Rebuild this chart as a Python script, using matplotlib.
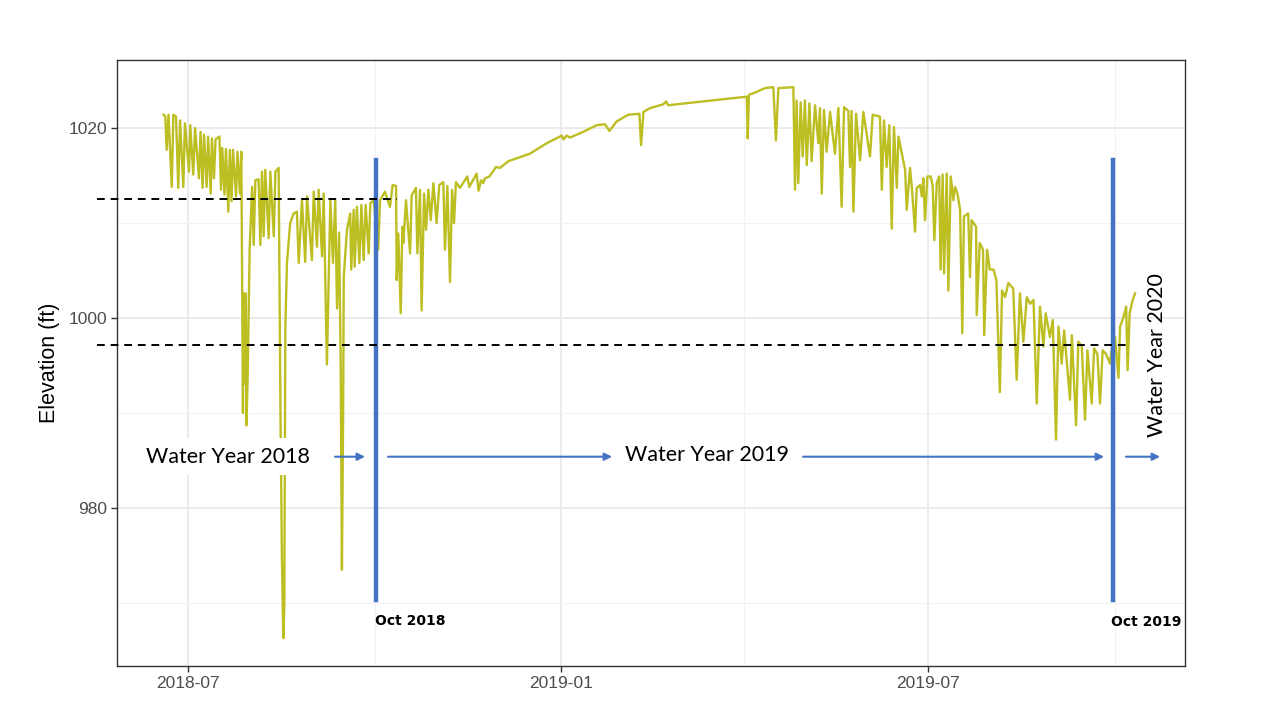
import numpy as np
import matplotlib
matplotlib.use("Agg")
import matplotlib.pyplot as plt
import matplotlib.dates as mdates

# reservoir elevation: days after 2018-07-01, elevation in ft
day_offset = [
    -12.0, -11.2, -10.5, -9.6, -8.0, -7.2, -5.9, -4.8, -3.9, -2.3, -1.5,
    0.5, 1.1, 2.6, 3.5, 5.4, 6.2, 7.2, 7.9, 9.2, 9.9, 11.2, 11.8, 12.8, 13.6,
    14.8, 15.5, 16.3, 16.9, 18.0, 18.7, 19.9, 20.6, 21.5, 22.2, 23.7, 24.4,
    25.6, 26.3,
    27.1, 27.5, 28.0, 28.5, 28.8, 29.4, 30.4, 31.6, 32.4, 33.2, 34.8, 35.7,
    36.5, 37.3, 38.1, 39.8, 40.6, 42.3, 43.1, 44.7,
    45.6, 46.3, 47.0, 47.5, 48.0, 48.8, 50.4, 52.1, 53.7, 54.6, 56.2, 57.8,
    58.7, 61.1, 62.0, 63.6, 64.4, 66.1, 66.9, 68.5, 70.2, 71.5, 72.6,
    73.5, 74.5, 75.3, 75.9, 76.5, 76.8, 78.4, 80.0, 80.5, 81.7, 82.2, 83.3,
    84.5, 85.5, 86.6, 87.6, 89.1, 89.9, 91.6,
    93.8, 94.7, 97.1, 99.6, 100.9, 102.6, 102.9, 103.7, 104.9, 105.7, 106.2,
    107.5, 109.5, 110.3, 112.4, 113.1, 114.4, 115.2, 116.4, 117.4, 118.5,
    119.7, 121.0, 122.6, 123.9, 125.9, 126.7, 127.9, 129.2, 130.2, 131.2,
    132.1, 134.1, 137.7, 138.7, 142.3, 143.3, 144.5, 145.6, 146.4, 148.6,
    151.9, 153.8, 157.9, 168.6, 176.9, 184.3, 185.1, 186.7, 188.4, 194.9,
    201.5, 205.6, 207.8, 211.4, 217.1, 222.6, 223.4, 224.6, 227.9, 234.4,
    235.7, 236.8,
    275.5, 276.0, 276.6, 280.4, 284.5, 288.6, 289.9, 291.1, 298.5,
    299.3, 300.1, 300.9, 302.1, 303.1, 304.2, 305.1, 306.4, 307.5, 309.2,
    310.8, 311.6, 312.5, 313.6, 314.9, 316.6, 319.0, 320.7, 322.3, 323.5,
    325.6, 326.4, 327.2, 328.1, 329.4, 331.4, 333.0, 336.3, 337.6, 341.2,
    342.1, 343.2, 344.5, 345.8, 347.0, 348.1, 349.5, 350.3,
    353.6, 354.4, 356.0, 356.9, 358.5, 359.3, 361.0, 361.8, 362.6, 363.4,
    364.6, 366.2, 367.2, 368.0, 369.2, 370.4, 371.1, 372.1, 372.8, 374.1,
    374.9, 376.1, 377.4, 378.2, 379.4, 380.7, 381.8, 382.6, 384.7, 385.6,
    386.4, 388.6, 388.9, 390.4, 392.0, 392.6, 394.0, 395.3, 397.2, 398.6,
    400.3, 401.4, 402.9, 404.5, 406.9, 408.6, 410.2, 411.9, 413.6, 415.2,
    416.9, 418.5, 420.1,
    421.8, 422.9, 425.0, 426.4, 428.0, 429.2,
    430.8, 432.0, 434.9, 435.8, 437.9, 439.0, 440.7, 442.3, 443.5, 445.6,
    446.8, 448.4, 449.7, 451.0, 452.7, 454.6, 455.5, 457.1, 458.8, 459.6,
    461.3, 462.6, 463.3, 464.3, 465.8, 467.0,
]
elevation_ft = [
    1021.4, 1021.2, 1017.7, 1021.4, 1013.8, 1021.4, 1021.2, 1013.7, 1020.8, 1013.8, 1020.5,
    1015.4, 1020.3, 1015.1, 1020.0, 1014.7, 1019.6, 1013.7, 1019.3, 1013.8, 1019.1, 1013.1, 1018.9, 1014.7, 1018.8,
    1019.0, 1019.1, 1013.5, 1017.9, 1013.0, 1017.8, 1011.2, 1017.7, 1012.3, 1017.7, 1012.8, 1017.5,
    1013.1, 1017.5,
    990.0, 1002.6, 993.1, 1002.6, 988.7, 993.5, 1007.2, 1013.8, 1007.7, 1014.5, 1014.6, 1007.7,
    1015.4, 1008.6, 1015.6, 1008.4, 1015.4, 1008.6, 1015.4, 1015.8,
    990.0, 975.0, 966.3, 969.5, 999.0, 1005.8, 1010.0, 1011.0, 1011.2, 1005.8, 1012.4, 1005.9,
    1012.8, 1006.1, 1013.3, 1007.5, 1013.5, 1006.5, 1013.1, 995.1, 1012.4, 1005.8, 1012.4,
    1001.0, 1009.0, 995.0, 973.5, 990.0, 1004.3, 1009.3, 1011.0, 1005.1, 1011.4, 1005.4, 1011.7,
    1005.8, 1011.9, 1006.1, 1011.9, 1006.8, 1012.1, 1012.4,
    1007.2, 1012.4, 1013.3, 1011.7, 1014.0, 1013.9, 1004.0, 1008.9, 1000.5, 1009.6, 1007.9,
    1012.4, 1006.8, 1012.9, 1013.7, 1006.8, 1013.5, 1000.8, 1013.1, 1009.3, 1013.5,
    1010.3, 1014.2, 1010.0, 1014.0, 1014.3, 1007.2, 1013.9, 1003.8, 1013.5, 1010.0,
    1014.3, 1013.7, 1014.9, 1013.8, 1015.2, 1013.4, 1014.5, 1014.2, 1014.7, 1014.9,
    1015.9, 1015.8, 1016.5, 1017.3, 1018.4, 1019.2, 1018.8, 1019.2, 1019.0, 1019.6,
    1020.3, 1020.4, 1019.7, 1020.7, 1021.4, 1021.5, 1018.2, 1021.7, 1022.1, 1022.5,
    1022.8, 1022.4,
    1023.3, 1018.9, 1023.5, 1023.8, 1024.2, 1024.3, 1018.7, 1024.2, 1024.3,
    1013.5, 1022.9, 1014.2, 1022.7, 1017.0, 1022.9, 1016.1, 1022.6, 1016.5, 1022.4,
    1018.4, 1022.1, 1013.1, 1021.9, 1017.5, 1021.7, 1017.3, 1022.1, 1011.7, 1022.2,
    1021.8, 1015.9, 1021.8, 1011.2, 1021.5, 1016.6, 1021.7, 1017.0, 1021.4, 1021.2,
    1013.5, 1020.8, 1015.9, 1020.3, 1009.4, 1020.1, 1013.7, 1019.1,
    1015.6, 1011.4, 1015.8, 1013.8, 1009.1, 1013.7, 1014.0, 1012.8, 1014.7, 1010.3,
    1014.9, 1014.9, 1013.9, 1008.2, 1014.2, 1014.9, 1005.1, 1015.1, 1004.7, 1015.2,
    1002.9, 1014.9, 1012.4, 1013.8, 1013.1, 1011.4, 998.4, 1010.7, 1011.0, 1004.3,
    1010.3, 1009.6, 1000.3, 1007.9, 1007.2, 998.2, 1007.2, 1005.1, 1005.1, 1004.0,
    992.2, 1002.9, 1002.2, 1003.7, 1003.1, 993.5, 1002.6, 997.5, 1002.2, 1001.5,
    1001.9, 991.0, 1001.2,
    997.0, 1000.5, 998.0, 999.8, 987.2, 999.1,
    995.2, 998.7, 991.4, 998.2, 988.7, 997.5, 997.0, 989.3, 996.6, 991.0,
    996.8, 996.2, 991.0, 996.6, 996.2, 995.2, 996.8, 998.0, 993.7, 999.1,
    1000.1, 1001.2, 994.5, 1000.5, 1001.9, 1002.6,
]

x_breaks = ["2018-07-01", "2019-01-01", "2019-07-01"]
x_minor = ["2018-10-01", "2019-04-01", "2019-10-01"]
y_breaks = [980, 1000, 1020]
y_minor = [970, 990, 1010]

# hand-drawn overlays (days after 2018-07-01)
water_year_lines = [92.5, 455.9]
level_high = 1012.5
level_low = 997.2

base = np.datetime64("2018-07-01T00:00")


def to_date(d):
    return base + np.round(np.asarray(d, dtype=float) * 1440).astype("timedelta64[m]")


dates = to_date(day_offset)

line_col = "#BDBE22"
blue = "#4472C4"

fig = plt.figure(figsize=(12.8, 7.2), dpi=100)
ax = fig.add_axes([117 / 1280, 1 - 666 / 720, (1185 - 117) / 1280, (666 - 60) / 720])

ax.set_xlim(to_date(-35.0), to_date(491.6))
ax.set_ylim(963.37, 1027.16)

# ggplot theme_bw-ish grid
ax.set_xticks(np.array(x_breaks, dtype="datetime64[D]"))
ax.set_xticks(np.array(x_minor, dtype="datetime64[D]"), minor=True)
ax.set_yticks(y_breaks)
ax.set_yticks(y_minor, minor=True)
ax.xaxis.set_major_formatter(mdates.DateFormatter("%Y-%m"))
ax.grid(which="major", color="#EBEBEB", lw=1.4)
ax.grid(which="minor", color="#F2F2F2", lw=0.8)
ax.set_axisbelow(True)
ax.tick_params(which="major", length=4, width=1, color="#333333",
               labelsize=12.5, labelcolor="#4D4D4D", pad=3)
ax.tick_params(which="minor", length=0)
for s in ax.spines.values():
    s.set_color("#333333")
    s.set_linewidth(1)
for lab in ax.get_xticklabels() + ax.get_yticklabels():
    lab.set_family("Liberation Sans")

ax.plot(dates, elevation_ft, color=line_col, lw=1.7, zorder=3)

ax.set_ylabel("Elevation (ft)", fontsize=15.5, family="Liberation Sans", labelpad=6)

# overlays
for d in water_year_lines:
    ax.plot([to_date(d), to_date(d)], [970.3, 1016.6], color=blue, lw=3.2, zorder=5)

ax.plot([to_date(-44.9), to_date(103.1)], [level_high, level_high], color="black",
        lw=1.4, ls=(0, (4, 3)), clip_on=False, zorder=6)
ax.plot([to_date(-44.9), to_date(463.0)], [level_low, level_low], color="black",
        lw=1.4, ls=(0, (4, 3)), clip_on=False, zorder=6)

arrow_y = 985.4
for a, b in [(72.5, 87.3), (98.6, 209.1), (303.3, 451.7), (462.5, 479.3)]:
    ax.annotate("", xy=(to_date(b), arrow_y), xytext=(to_date(a), arrow_y),
                arrowprops=dict(arrowstyle="-|>", color=blue, lw=1.5,
                                mutation_scale=11, shrinkA=0, shrinkB=0), zorder=6)

ax.text(to_date(19.5), 985.4, "Water Year 2018", fontsize=15.5, family="Lato",
        ha="center", va="center", zorder=7,
        bbox=dict(facecolor="white", edgecolor="none", pad=6))
ax.text(to_date(255.9), 985.6, "Water Year 2019", fontsize=15.5, family="Lato",
        ha="center", va="center", zorder=7)
ax.text(to_date(477.8), 996.1, "Water Year 2020", fontsize=15.5, family="Lato",
        ha="center", va="center", rotation=90, zorder=7)
ax.text(to_date(92.2), 968.1, "Oct 2018", fontsize=10, fontweight="bold",
        ha="left", va="center", zorder=7)
ax.text(to_date(455.1), 968.0, "Oct 2019", fontsize=10, fontweight="bold",
        ha="left", va="center", zorder=7)

fig.savefig("out.png", dpi=100, facecolor="white")
